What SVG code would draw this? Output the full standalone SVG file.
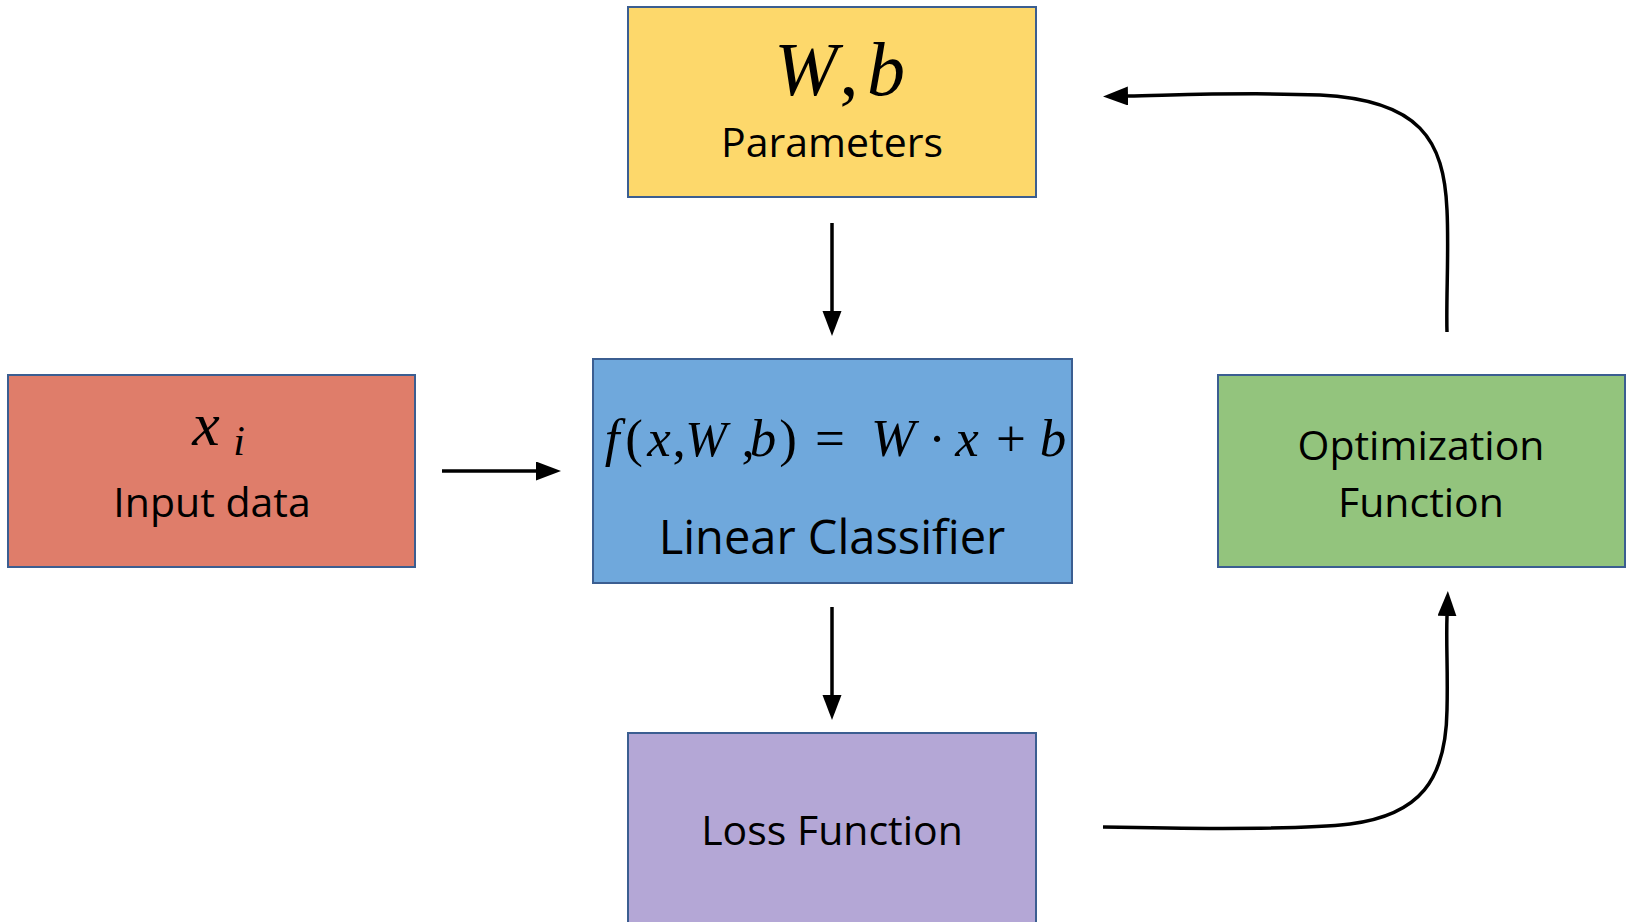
<svg xmlns="http://www.w3.org/2000/svg" width="1626" height="922" viewBox="0 0 1626 922">
  <style>
    .box { stroke: #3B5E91; stroke-width: 2; }
    .label { font-family: "Open Sans", "Liberation Sans", sans-serif; font-size: 41px; fill: #000; text-anchor: middle; }
    .label.big { font-size: 47px; }
    .math { font-family: "Liberation Serif", "DejaVu Serif", serif; fill: #000; text-anchor: middle; }
    .it { font-style: italic; }
    .edge { fill: none; stroke: #000; stroke-width: 3.5; marker-end: url(#arrow); }
  </style>
  <defs>
    <marker id="arrow" markerUnits="userSpaceOnUse" markerWidth="26" markerHeight="20" refX="0" refY="9.5" orient="auto">
      <path d="M0,0 L25,9.5 L0,19 Z" fill="#000"/>
    </marker>
  </defs>

  <rect width="1626" height="922" fill="#fff"/>

  <!-- parameters W, b -->
  <g id="parameters">
    <rect class="box" x="628" y="7" width="408" height="190" fill="#FDD86B"/>
    <text class="math" font-size="76" y="95"><tspan class="it" x="806">W</tspan><tspan x="849">,</tspan><tspan class="it" x="886">b</tspan></text>
    <text class="label" x="832" y="157">Parameters</text>
  </g>

  <!-- input data x_i -->
  <g id="input-data">
    <rect class="box" x="8" y="375" width="407" height="192" fill="#DF7D6A"/>
    <text class="math it" font-size="62" y="445"><tspan x="206">x</tspan><tspan x="239" y="455" font-size="42">i</tspan></text>
    <text class="label" x="212" y="517">Input data</text>
  </g>

  <!-- linear classifier: f(x, W, b) = W · x + b -->
  <g id="linear-classifier">
    <rect class="box" x="593" y="359" width="479" height="224" fill="#6FA8DC"/>
    <text class="math" font-size="53" y="456"><tspan class="it" x="612">f</tspan><tspan x="634">(</tspan><tspan class="it" x="659">x</tspan><tspan x="679">,</tspan><tspan class="it" x="706" font-size="50">W</tspan><tspan x="748">,</tspan><tspan class="it" x="763">b</tspan><tspan x="788">)</tspan><tspan x="830">=</tspan><tspan class="it" x="893">W</tspan><tspan x="937">·</tspan><tspan class="it" x="967">x</tspan><tspan x="1011">+</tspan><tspan class="it" x="1053">b</tspan></text>
    <text class="label big" x="832" y="554">Linear Classifier</text>
  </g>

  <!-- optimization function -->
  <g id="optimization-function">
    <rect class="box" x="1218" y="375" width="407" height="192" fill="#93C47D"/>
    <text class="label" x="1421" y="460">Optimization</text>
    <text class="label" x="1421" y="517">Function</text>
  </g>

  <!-- loss function -->
  <g id="loss-function">
    <rect class="box" x="628" y="733" width="408" height="200" fill="#B4A7D6"/>
    <text class="label" x="832" y="845">Loss Function</text>
  </g>

  <!-- connectors -->
  <g id="connectors">
    <path class="edge" d="M832,223 L832,311"/>
    <path class="edge" d="M442,471 L536,471"/>
    <path class="edge" d="M832,607 L832,695"/>
    <path class="edge" d="M1103,827 C1200,829 1300,830 1350,824 C1420,815 1446,780 1447,710 C1448,670 1446,645 1447,616"/>
    <path class="edge" d="M1447,332 C1446,300 1449,250 1447,210 C1444,140 1420,100 1320,95 C1250,92 1180,95 1128,96"/>
  </g>
</svg>
